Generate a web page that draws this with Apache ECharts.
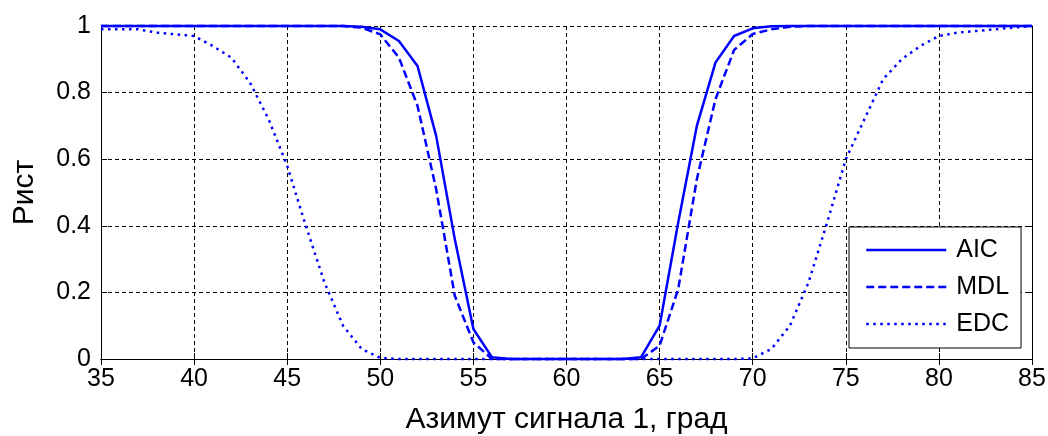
<!DOCTYPE html>
<html>
<head>
<meta charset="utf-8">
<script src="https://cdn.jsdelivr.net/npm/echarts@6/dist/echarts.min.js"></script>
<style>
  html, body { margin: 0; padding: 0; background: #fff; }
  #main { width: 1048px; height: 436px; }
</style>
</head>
<body>
<div id="main"></div>
<script>
// azimuth of signal 1, degrees
const angles = [35, 36, 37, 38, 39, 40, 41, 42, 43, 44, 45, 46, 47, 48, 49, 50,
  51, 52, 53, 54, 55, 56, 57, 58, 59, 60, 61, 62, 63, 64, 65, 66, 67, 68, 69, 70,
  71, 72, 73, 74, 75, 76, 77, 78, 79, 80, 81, 82, 83, 84, 85];

const aic = [1, 1, 1, 1, 1, 1, 1, 1, 1, 1, 1, 1, 1, 1, 0.998, 0.99,
  0.955, 0.88, 0.67, 0.36, 0.09, 0.005, 0, 0, 0, 0, 0, 0, 0, 0.005, 0.10, 0.41, 0.70, 0.89, 0.97, 0.993,
  0.999, 1, 1, 1, 1, 1, 1, 1, 1, 1, 1, 1, 1, 1, 1];

const mdl = [1, 1, 1, 1, 1, 1, 1, 1, 1, 1, 1, 1, 1, 1, 0.995, 0.975,
  0.905, 0.76, 0.51, 0.19, 0.05, 0, 0, 0, 0, 0, 0, 0, 0, 0, 0.04, 0.21, 0.54, 0.78, 0.928, 0.976,
  0.99, 0.998, 1, 1, 1, 1, 1, 1, 1, 1, 1, 1, 1, 1, 1];

const edc = [0.99, 0.99, 0.99, 0.98, 0.975, 0.97, 0.94, 0.905, 0.83, 0.72, 0.58, 0.40, 0.23, 0.10, 0.03, 0.003,
  0, 0, 0, 0, 0, 0, 0, 0, 0, 0, 0, 0, 0, 0, 0, 0, 0, 0, 0, 0.002,
  0.03, 0.10, 0.23, 0.41, 0.60, 0.72, 0.84, 0.90, 0.94, 0.97, 0.98, 0.985, 0.99, 0.995, 1];

const font = '"Liberation Sans", Arial, sans-serif';
const pairs = ys => angles.map((x, i) => [x, ys[i]]);

const chart = echarts.init(document.getElementById('main'));

const axisLine = { show: true, lineStyle: { color: '#000', width: 1 } };
const axisTick = { show: true, inside: true, length: 6, lineStyle: { color: '#000', width: 1 } };
const gridLine = { show: true, lineStyle: { color: '#000', width: 1, type: [4, 3] } };

const option = {
  animation: false,
  backgroundColor: '#fff',
  grid: { left: 101, right: 16, top: 26, bottom: 77, outerBoundsMode: 'none' },
  legend: {
    data: ['AIC', 'MDL', 'EDC'],
    orient: 'vertical',
    left: 849,
    top: 227,
    backgroundColor: '#fff',
    borderColor: '#000',
    borderWidth: 1,
    borderRadius: 0,
    padding: [10, 12, 11, 16],
    itemWidth: 80,
    itemHeight: 14,
    itemGap: 11,
    z: 10,
    itemStyle: { opacity: 0 },
    lineStyle: { width: 2.5 },
    textStyle: { fontSize: 25, color: '#000', fontFamily: font, lineHeight: 26, padding: [0, 0, 0, 5] }
  },
  xAxis: [
    {
      type: 'value', min: 35, max: 85, interval: 5, position: 'bottom',
      name: 'Азимут сигнала 1, град', nameLocation: 'middle', nameGap: 46,
      nameTextStyle: { fontSize: 30, color: '#000', fontFamily: font },
      axisLine: axisLine, axisTick: axisTick, splitLine: gridLine,
      axisLabel: { fontSize: 25, color: '#000', fontFamily: font, margin: 8 }
    },
    {
      type: 'value', min: 35, max: 85, interval: 5, position: 'top',
      axisLine: axisLine, axisTick: axisTick, splitLine: { show: false },
      axisLabel: { show: false }
    }
  ],
  yAxis: [
    {
      type: 'value', min: 0, max: 1, interval: 0.2, position: 'left',
      name: 'Рист', nameLocation: 'middle', nameGap: 61,
      nameTextStyle: { fontSize: 30, color: '#000', fontFamily: font },
      axisLine: axisLine, axisTick: axisTick, splitLine: gridLine,
      axisLabel: { fontSize: 25, color: '#000', fontFamily: font, margin: 10 }
    },
    {
      type: 'value', min: 0, max: 1, interval: 0.2, position: 'right',
      axisLine: axisLine, axisTick: axisTick, splitLine: { show: false },
      axisLabel: { show: false }
    }
  ],
  series: [
    {
      name: 'AIC', type: 'line', data: pairs(aic), symbol: 'none', clip: false,
      color: '#0000ff', lineStyle: { width: 2.5, type: 'solid' }, z: 5
    },
    {
      name: 'MDL', type: 'line', data: pairs(mdl), symbol: 'none', clip: false,
      color: '#0000ff', lineStyle: { width: 2.5, type: [8, 4] }, z: 5
    },
    {
      name: 'EDC', type: 'line', data: pairs(edc), symbol: 'none', clip: false,
      color: '#0000ff', lineStyle: { width: 2.5, type: [2.5, 4.5] }, z: 5
    }
  ]
};

chart.setOption(option);
</script>
</body>
</html>
